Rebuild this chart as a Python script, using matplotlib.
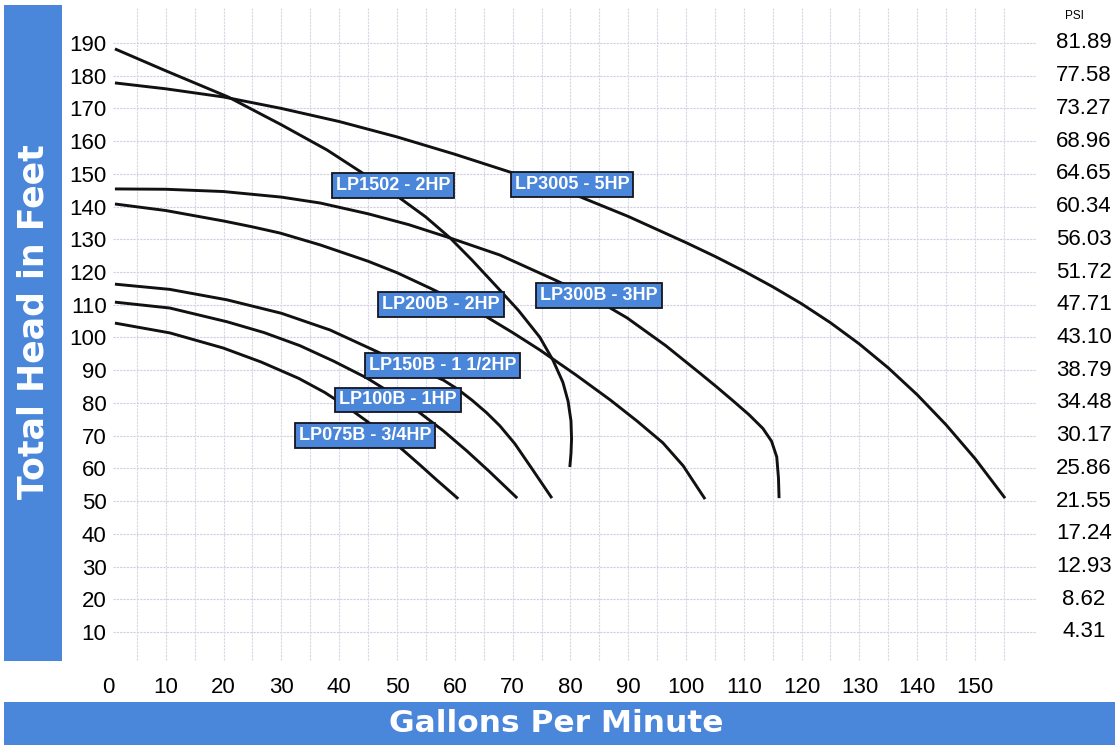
import matplotlib
matplotlib.use("Agg")
import matplotlib.pyplot as plt
from matplotlib.patches import Rectangle
import matplotlib.transforms as mtrans

# ---------------- data ----------------
x_ticks = [0, 10, 20, 30, 40, 50, 60, 70, 80, 90, 100, 110, 120, 130, 140, 150]
y_ticks = [10, 20, 30, 40, 50, 60, 70, 80, 90, 100, 110, 120, 130, 140, 150, 160, 170, 180, 190]
psi_labels = ["4.31", "8.62", "12.93", "17.24", "21.55", "25.86", "30.17", "34.48", "38.79",
              "43.10", "47.71", "51.72", "56.03", "60.34", "64.65", "68.96", "73.27", "77.58", "81.89"]

lp3005_gpm = [1.2, 10, 20, 30, 40, 50, 60, 70, 80, 90, 100, 105, 110, 115, 120, 125, 130, 135, 140, 145, 150, 155.2]
lp3005_ft = [177.8, 176, 173.5, 170, 166, 161.3, 156, 150.3, 144.2, 137, 129, 124.8, 120.3, 115.5, 110.3,
             104.5, 98, 90.7, 82.5, 73.3, 63, 50.9]

lp1502_gpm = [1.2, 10, 20.8, 30, 37.9, 44, 50.5, 55, 59.2, 63, 67, 71, 74.7, 77, 78.7, 79.6, 80.1, 80.2, 80.1, 79.9]
lp1502_ft = [188.2, 181.5, 173.5, 165, 157.3, 150.3, 142.6, 136.8, 130.4, 123.6, 116, 108.3, 100.1, 93, 86.3,
             80.5, 74.5, 69, 64.5, 60.4]

lp300b_gpm = [1.2, 10, 20, 30, 36.7, 45, 52, 59.2, 67.8, 77.3, 84, 89.8, 96.5, 102.4, 105.3, 108.1, 110.9,
              113.3, 114.8, 115.7, 116, 116.1]
lp300b_ft = [145.4, 145.3, 144.6, 142.9, 141.1, 137.8, 134.5, 130.4, 125.2, 117.6, 112, 106, 97.5, 89.1, 84.9,
             80.7, 76.4, 72.2, 68.3, 63.5, 57, 50.9]

lp200b_gpm = [1.2, 10, 20, 25, 29.8, 36.7, 45, 50, 55.7, 60, 65.6, 70, 74.7, 81, 86.9, 91.5, 96, 99.5, 103.3]
lp200b_ft = [140.8, 138.8, 135.6, 133.8, 131.9, 128.3, 123.3, 119.8, 115.1, 111.4, 106.2, 101.5, 96.2, 88.5,
             80.9, 74.5, 67.8, 60.8, 50.6]

lp150b_gpm = [1.2, 10.7, 20.6, 30, 38.4, 47, 52, 58, 60.5, 63, 65.5, 67.8, 70.4, 73.5, 76.8]
lp150b_ft = [116.3, 114.7, 111.5, 107.4, 102.3, 95.3, 91.5, 87, 84.2, 80.8, 77, 73, 67.5, 59.5, 50.9]

lp100b_gpm = [1.2, 10.7, 20.6, 27, 33.2, 39, 44.8, 50, 54, 58, 62.1, 66, 70.8]
lp100b_ft = [110.8, 109, 104.8, 101.5, 97.5, 92.8, 87.6, 81.9, 76.9, 71.5, 65.3, 59, 50.9]

lp075b_gpm = [1.2, 10.7, 19.9, 26.5, 33, 37.5, 41.5, 44.8, 48, 50.9, 54, 56.9, 60.6]
lp075b_ft = [104.4, 101.4, 96.8, 92.5, 87.5, 83.2, 78.6, 74.4, 70, 65.8, 61, 56.4, 50.7]

label_texts = ["LP1502 - 2HP", "LP3005 - 5HP", "LP200B - 2HP", "LP300B - 3HP",
               "LP150B - 1 1/2HP", "LP100B - 1HP", "LP075B - 3/4HP"]
label_gpm = [49.3, 80.3, 57.6, 84.9, 57.9, 50.2, 44.5]
label_ft = [146.4, 146.7, 110.2, 112.9, 91.3, 80.9, 70.1]

# ---------------- figure ----------------
W, H = 1115, 745
BLUE = "#4a87da"
fig = plt.figure(figsize=(W / 100, H / 100), dpi=100)
fig.patch.set_facecolor("white")

# blue bands
fig.patches.append(Rectangle((4 / W, 1 - 661 / H), 58 / W, 656 / H, transform=fig.transFigure,
                             facecolor=BLUE, edgecolor="none", zorder=0))
fig.patches.append(Rectangle((4 / W, 0), (W - 4) / W, 43 / H, transform=fig.transFigure,
                             facecolor=BLUE, edgecolor="none", zorder=0))

fig.text(34 / W, 1 - 322 / H, "Total Head in Feet", rotation=90, color="white",
         fontsize=25, fontweight="bold", family="DejaVu Sans", ha="center", va="center")
fig.text(556 / W, 1 - 723 / H, "Gallons Per Minute", color="white",
         fontsize=22.5, fontweight="bold", family="DejaVu Sans", ha="center", va="center")

# axes: x 0..161 -> px 108..1038.6 ; y 0..202 -> px 664.7..3.7
left_px, right_px = 108, 108 + 161 * 5.78
top_px, bot_px = 43 - 12 * 3.272, 43 + 190 * 3.272
ax = fig.add_axes([left_px / W, 1 - bot_px / H, (right_px - left_px) / W, (bot_px - top_px) / H])
ax.set_xlim(0, 161)
ax.set_ylim(0, 202)
ax.set_facecolor("none")
for s in ax.spines.values():
    s.set_visible(False)

ax.hlines(y_ticks, 0.9, 160.5, color="#cfcfe3", linewidth=0.8, linestyle=(0, (2, 1)), zorder=1)
ax.vlines(list(range(5, 160, 5)), 1.5, 200.8, color="#d6d6e6", linewidth=0.8,
          linestyle=(0, (2, 1)), zorder=1)

num_font = ["Liberation Sans", "DejaVu Sans"]
ax.set_xticks(x_ticks)
ax.set_xticklabels([str(v) for v in x_ticks], family=num_font, fontsize=16)
ax.set_yticks(y_ticks)
ax.set_yticklabels([str(v) for v in y_ticks], family=num_font, fontsize=16)
ax.tick_params(axis="x", length=0, pad=9)
ax.tick_params(axis="y", length=0, pad=1)

# right PSI labels
tr = mtrans.blended_transform_factory(fig.transFigure, ax.transData)
for yv, lab in zip(y_ticks, psi_labels):
    ax.text(1084 / W, yv, lab, transform=tr, ha="center", va="center",
            family=num_font, fontsize=16, clip_on=False)
fig.text(1074 / W, 1 - 16 / H, "PSI", ha="center", va="center", family=num_font, fontsize=8.5)

# curves
line_kw = dict(color="#111111", linewidth=2.1, solid_capstyle="butt", solid_joinstyle="round", zorder=3)
for gx, fy in [(lp3005_gpm, lp3005_ft), (lp1502_gpm, lp1502_ft), (lp300b_gpm, lp300b_ft),
               (lp200b_gpm, lp200b_ft), (lp150b_gpm, lp150b_ft), (lp100b_gpm, lp100b_ft),
               (lp075b_gpm, lp075b_ft)]:
    ax.plot(gx, fy, **line_kw)

# labels
for t, gx, fy in zip(label_texts, label_gpm, label_ft):
    ax.text(gx, fy, t, ha="center", va="center", color="white", fontsize=13,
            fontweight="bold", family=["Liberation Sans Narrow", "Liberation Sans"],
            zorder=5,
            bbox=dict(boxstyle="square,pad=0.22", facecolor=BLUE, edgecolor="#15151f", linewidth=1.3))

fig.savefig("out.png", dpi=100, facecolor="white")
